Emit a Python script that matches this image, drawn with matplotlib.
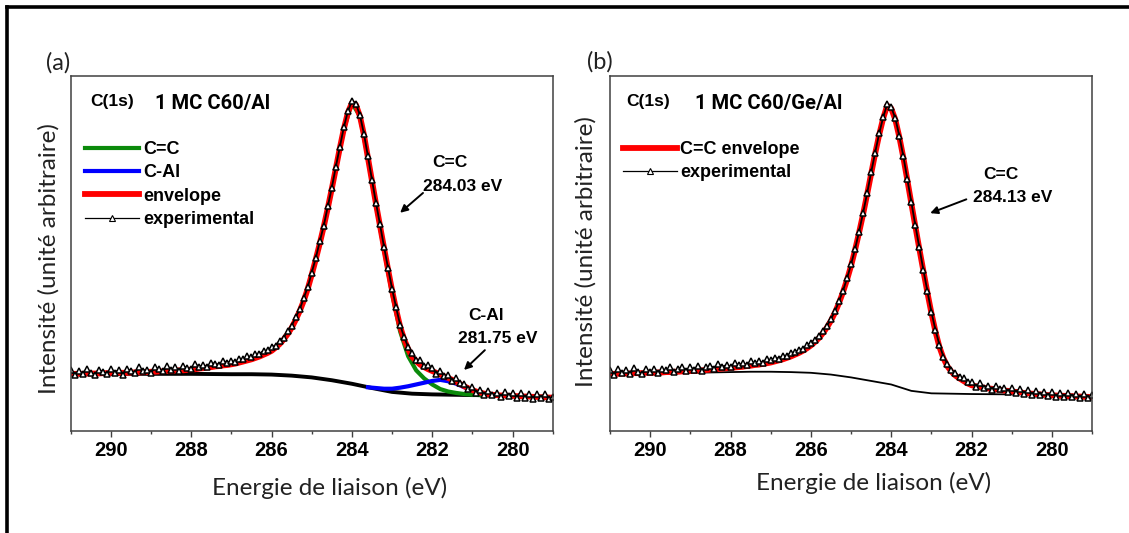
"""XPS C(1s) spectra: 1 MC C60/Al (a) and 1 MC C60/Ge/Al (b)."""

import matplotlib
matplotlib.use("Agg")
import matplotlib.pyplot as plt
import numpy as np
from matplotlib.lines import Line2D
from matplotlib.ticker import MultipleLocator

plt.rcParams["font.family"] = ["Liberation Sans", "DejaVu Sans"]
plt.rcParams["font.weight"] = "bold"

# ---- data (intensity in arbitrary units) ----
energy = np.round(np.arange(291.0, 278.95, -0.1), 1)  # binding energy grid, eV

exp_a = [
    17.2, 15.7, 16.9, 15.9, 17.5, 16.3, 15.7, 17.2, 16.6, 16.0,
    17.5, 16.3, 17.1, 15.8, 17.3, 16.9, 16.3, 17.9, 16.8, 17.2,
    16.3, 17.8, 17.3, 16.7, 18.1, 17.2, 17.8, 16.8, 18.1, 17.7,
    17.4, 18.7, 18.0, 18.5, 17.9, 19.1, 18.8, 18.5, 19.7, 19.1,
    19.7, 19.3, 20.3, 20.2, 21.0, 20.7, 21.5, 21.7, 22.5, 22.6,
    23.5, 24.0, 25.3, 26.2, 28.1, 29.6, 32.0, 34.2, 37.4, 40.5,
    44.6, 48.7, 53.4, 57.9, 63.3, 68.6, 74.5, 80.1, 85.7, 90.2,
    93.0, 92.3, 89.1, 83.8, 77.4, 70.8, 64.3, 58.2, 51.9, 45.9,
    40.1, 34.8, 29.9, 26.4, 23.6, 21.8, 20.0, 19.8, 18.2, 18.4,
    17.7, 16.1, 16.8, 15.4, 15.6, 14.0, 14.7, 13.3, 13.2, 11.8,
    12.3, 10.7, 11.5, 10.0, 11.2, 9.9, 10.7, 9.4, 10.8, 9.7,
    10.6, 9.3, 10.7, 9.3, 10.3, 9.0, 10.4, 9.2, 10.2, 8.9,
    9.6,
]
envelope_a = [
    16.0, 16.0, 16.0, 16.0, 16.1, 16.1, 16.1, 16.1, 16.2, 16.2,
    16.2, 16.2, 16.3, 16.3, 16.3, 16.4, 16.4, 16.4, 16.5, 16.5,
    16.6, 16.6, 16.7, 16.7, 16.8, 16.8, 16.9, 17.0, 17.0, 17.1,
    17.2, 17.3, 17.5, 17.6, 17.8, 17.9, 18.1, 18.2, 18.4, 18.5,
    18.7, 18.9, 19.2, 19.5, 19.8, 20.1, 20.5, 20.9, 21.4, 21.9,
    22.5, 23.4, 24.4, 25.7, 27.2, 29.0, 31.2, 33.7, 36.6, 40.0,
    44.0, 48.3, 52.8, 57.6, 62.8, 68.3, 74.0, 79.8, 85.2, 89.8,
    92.5, 92.0, 88.8, 83.5, 77.0, 70.5, 64.0, 57.8, 51.6, 45.5,
    39.6, 34.2, 29.4, 25.8, 23.0, 20.8, 19.6, 18.6, 17.9, 17.3,
    16.8, 16.3, 15.8, 15.3, 14.8, 14.3, 13.7, 13.1, 12.5, 11.9,
    11.4, 11.0, 10.7, 10.4, 10.2, 10.1, 10.0, 9.9, 9.9, 9.8,
    9.8, 9.7, 9.7, 9.6, 9.6, 9.5, 9.5, 9.4, 9.4, 9.3,
    9.3,
]

# C=C component (a), sampled every 0.2 eV from 288.0 to 280.6
cc_energy_a = np.round(np.arange(288.0, 280.55, -0.2), 1)
cc_a = [
    17.2, 17.5, 17.8, 18.1, 18.4, 18.7, 19.2, 19.8, 20.5, 21.4,
    22.5, 24.4, 27.2, 31.2, 36.6, 44.0, 52.8, 62.8, 74.0, 85.2,
    92.5, 88.8, 77.0, 63.8, 51.1, 38.7, 28.0, 21.0, 17.0, 14.7,
    13.0, 11.7, 11.0, 10.6, 10.3, 10.1, 10.0, 10.0,
]

# C-Al component (a), sampled every 0.2 eV from 283.6 to 280.6
cal_energy_a = np.round(np.arange(283.6, 280.55, -0.2), 1)
cal_a = [
    12.2, 12.0, 11.8, 11.8, 12.1, 12.5, 13.0, 13.5, 14.0, 14.3,
    13.9, 13.2, 12.2, 11.3, 10.6, 10.2,
]

bg_energy_a = [291.0, 290.0, 289.0, 288.0, 287.0, 286.5, 286.0, 285.5, 285.0,
               284.5, 284.0, 283.5, 283.0, 282.5, 282.0, 281.5, 281.0, 280.8]
bg_a = [16.0, 16.0, 16.0, 16.0, 15.9, 15.9, 15.8, 15.5, 15.0,
        14.2, 13.2, 12.0, 10.9, 10.4, 10.2, 10.1, 10.0, 10.0]

exp_b = [
    17.1, 15.6, 17.3, 16.2, 17.0, 15.9, 17.6, 16.5, 15.9, 17.3,
    16.5, 17.5, 16.2, 17.3, 17.0, 17.8, 16.6, 17.4, 17.9, 16.8,
    17.8, 17.2, 18.3, 16.9, 17.9, 18.3, 17.5, 18.7, 18.0, 18.5,
    17.8, 19.0, 18.5, 19.0, 18.4, 19.6, 19.0, 19.5, 19.2, 20.1,
    19.8, 20.6, 20.3, 21.1, 21.1, 21.9, 22.1, 22.8, 23.1, 24.1,
    24.6, 25.7, 26.6, 28.1, 29.6, 31.5, 33.7, 36.5, 39.5, 43.0,
    46.9, 51.3, 56.2, 61.5, 67.0, 72.9, 78.5, 83.9, 88.5, 92.2,
    91.3, 88.3, 83.3, 77.6, 71.1, 64.6, 58.0, 51.7, 45.4, 39.4,
    33.5, 28.5, 24.2, 20.9, 18.9, 17.0, 16.2, 15.1, 14.7, 13.8,
    13.7, 12.3, 13.3, 12.1, 12.7, 11.5, 12.7, 11.6, 12.0, 11.0,
    11.9, 10.6, 11.8, 10.4, 11.3, 10.0, 11.2, 10.1, 10.9, 9.7,
    10.8, 9.6, 10.6, 9.4, 10.7, 9.5, 10.3, 9.2, 10.4, 9.2,
    9.9,
]
envelope_b = [
    16.0, 16.0, 16.0, 16.1, 16.1, 16.1, 16.2, 16.2, 16.2, 16.3,
    16.3, 16.3, 16.4, 16.4, 16.5, 16.5, 16.6, 16.6, 16.7, 16.7,
    16.8, 16.9, 16.9, 17.0, 17.1, 17.2, 17.3, 17.4, 17.5, 17.6,
    17.7, 17.8, 17.9, 18.0, 18.2, 18.3, 18.5, 18.6, 18.8, 19.0,
    19.2, 19.5, 19.8, 20.1, 20.5, 20.9, 21.4, 21.9, 22.5, 23.2,
    24.0, 25.0, 26.1, 27.5, 29.1, 31.0, 33.3, 36.0, 39.1, 42.6,
    46.5, 51.0, 55.9, 61.1, 66.7, 72.5, 78.2, 83.5, 88.2, 91.8,
    91.0, 87.9, 83.0, 77.2, 70.8, 64.2, 57.7, 51.3, 45.1, 39.0,
    33.2, 28.0, 23.6, 20.4, 18.1, 16.6, 15.5, 14.7, 14.0, 13.3,
    12.8, 12.5, 12.3, 12.1, 11.9, 11.8, 11.6, 11.5, 11.3, 11.2,
    11.0, 10.9, 10.8, 10.6, 10.5, 10.4, 10.3, 10.2, 10.1, 10.0,
    9.9, 9.9, 9.8, 9.8, 9.7, 9.7, 9.6, 9.6, 9.5, 9.5,
    9.4,
]
bg_energy_b = [291.0, 290.0, 289.0, 288.0, 287.5, 287.0, 286.5, 286.0, 285.5,
               285.0, 284.5, 284.0, 283.5, 283.0, 282.5, 282.0, 281.0]
bg_b = [16.1, 16.2, 16.3, 16.5, 16.6, 16.6, 16.5, 16.3, 15.8,
        15.0, 14.0, 13.0, 11.2, 10.5, 10.4, 10.3, 10.2]

assert len(exp_a) == len(envelope_a) == len(exp_b) == len(envelope_b) == len(energy)
assert len(cc_a) == len(cc_energy_a) and len(cal_a) == len(cal_energy_a)

LABEL_FONT = "Lato"
TITLE_FONT = "Roboto"
EXP_STYLE = dict(color="black", lw=1.3, marker="^", ms=5.0, mfc="white",
                 mec="black", mew=1.1)
LEGEND_KW = dict(loc="upper left", frameon=False, borderpad=0, borderaxespad=0,
                 handlelength=3.0, handletextpad=0.2, labelspacing=0.35,
                 numpoints=1,
                 prop=dict(family="Liberation Sans", weight="bold", size=13))


def style_axes(ax):
    ax.set_xlim(291, 279)
    ax.set_ylim(0, 100)
    ax.set_yticks([])
    ax.xaxis.set_major_locator(MultipleLocator(2))
    ax.xaxis.set_minor_locator(MultipleLocator(1))
    ax.tick_params(axis="x", which="major", direction="out", length=4.5,
                   width=1.0, labelsize=14.5, pad=3, color="#404040")
    ax.tick_params(axis="x", which="minor", direction="out", length=2.5,
                   width=1.0, color="#404040")
    for sp in ax.spines.values():
        sp.set_color("#404040")
        sp.set_linewidth(1.1)
    ax.set_xlabel("Energie de liaison (eV)", family=LABEL_FONT,
                  fontweight="normal", fontsize=17.5, color="#222222")
    ax.set_ylabel("Intensité (unité arbitraire)", family=LABEL_FONT,
                  fontweight="normal", fontsize=17.5, color="#222222")
    ax.xaxis.label.set_va("center")
    ax.yaxis.label.set_va("center")


def add_note(ax, title, value, text_xy, tail, tip):
    ax.text(text_xy[0], text_xy[1], title, ha="center", va="center", fontsize=12.5)
    ax.text(text_xy[0] - 0.3, text_xy[1] - 6.6, value, ha="center", va="center",
            fontsize=12.5)
    ax.annotate("", xy=tip, xytext=tail,
                arrowprops=dict(arrowstyle="-|>", color="black", lw=1.4,
                                mutation_scale=11, shrinkA=0, shrinkB=0))


def slim_legend_marker(leg):
    exp_handle = leg.get_lines()[-1]
    exp_handle.set_linewidth(0.9)
    exp_handle.set_markersize(4.2)
    exp_handle.set_markeredgewidth(0.8)


fig = plt.figure(figsize=(11.29, 5.33), dpi=100)
ax_a = fig.add_axes([0.0626, 0.1923, 0.427, 0.6642])
ax_b = fig.add_axes([0.5403, 0.1923, 0.427, 0.6642])

# ---- panel (a) ----
ax_a.plot(bg_energy_a, bg_a, color="black", lw=2.8)
h_cc, = ax_a.plot(cc_energy_a, cc_a, color="#0b8a0b", lw=3.0, label="C=C")
h_cal, = ax_a.plot(cal_energy_a, cal_a, color="#0000ff", lw=3.0, label="C-Al")
h_env, = ax_a.plot(energy, envelope_a, color="#ff0000", lw=4.2, label="envelope")
h_exp, = ax_a.plot(energy, exp_a, label="experimental", **EXP_STYLE)
style_axes(ax_a)
ax_a.xaxis.set_label_coords(0.537, -0.162)
ax_a.yaxis.set_label_coords(-0.045, 0.485)
leg_a = ax_a.legend(handles=[h_cc, h_cal, h_env, h_exp],
                    bbox_to_anchor=(0.03, 0.818), **LEGEND_KW)
slim_legend_marker(leg_a)
ax_a.text(0.085, 0.928, "C(1s)", transform=ax_a.transAxes, ha="center",
          va="center", fontsize=12.5)
ax_a.text(0.294, 0.924, "1 MC C60/Al", transform=ax_a.transAxes, ha="center",
          va="center", fontsize=14.5, family=TITLE_FONT, fontweight="bold")
add_note(ax_a, "C=C", "284.03 eV", (281.55, 75.6), (282.23, 67.1), (282.80, 61.5))
add_note(ax_a, "C-Al", "281.75 eV", (280.67, 32.6), (280.69, 22.7), (281.21, 17.1))

# ---- panel (b) ----
ax_b.plot(bg_energy_b, bg_b, color="black", lw=1.3)
h_env_b, = ax_b.plot(energy, envelope_b, color="#ff0000", lw=4.2,
                     label="C=C envelope")
h_exp_b, = ax_b.plot(energy, exp_b, label="experimental", **EXP_STYLE)
style_axes(ax_b)
ax_b.xaxis.set_label_coords(0.546, -0.148)
ax_b.yaxis.set_label_coords(-0.05, 0.506)
leg_b = ax_b.legend(handles=[h_env_b, h_exp_b], bbox_to_anchor=(0.026, 0.818),
                    **LEGEND_KW)
slim_legend_marker(leg_b)
ax_b.text(0.08, 0.93, "C(1s)", transform=ax_b.transAxes, ha="center",
          va="center", fontsize=12.5)
ax_b.text(0.33, 0.924, "1 MC C60/Ge/Al", transform=ax_b.transAxes, ha="center",
          va="center", fontsize=14.5, family=TITLE_FONT, fontweight="bold")
add_note(ax_b, "C=C", "284.13 eV", (281.27, 72.3), (282.13, 65.3), (283.03, 61.4))

# panel letters and the outer frame
fig.text(0.0518, 0.882, "(a)", ha="center", va="center", fontsize=17,
         family=LABEL_FONT, fontweight="normal", color="#222222")
fig.text(0.531, 0.884, "(b)", ha="center", va="center", fontsize=17,
         family=LABEL_FONT, fontweight="normal", color="#222222")
fig.add_artist(Line2D([0.0065, 1.0], [0.9875, 0.9875], transform=fig.transFigure,
                      color="black", lw=2.6))
fig.add_artist(Line2D([0.0065, 0.0065], [0.0, 0.9875], transform=fig.transFigure,
                      color="black", lw=2.6))

fig.savefig("out.png", dpi=100)
